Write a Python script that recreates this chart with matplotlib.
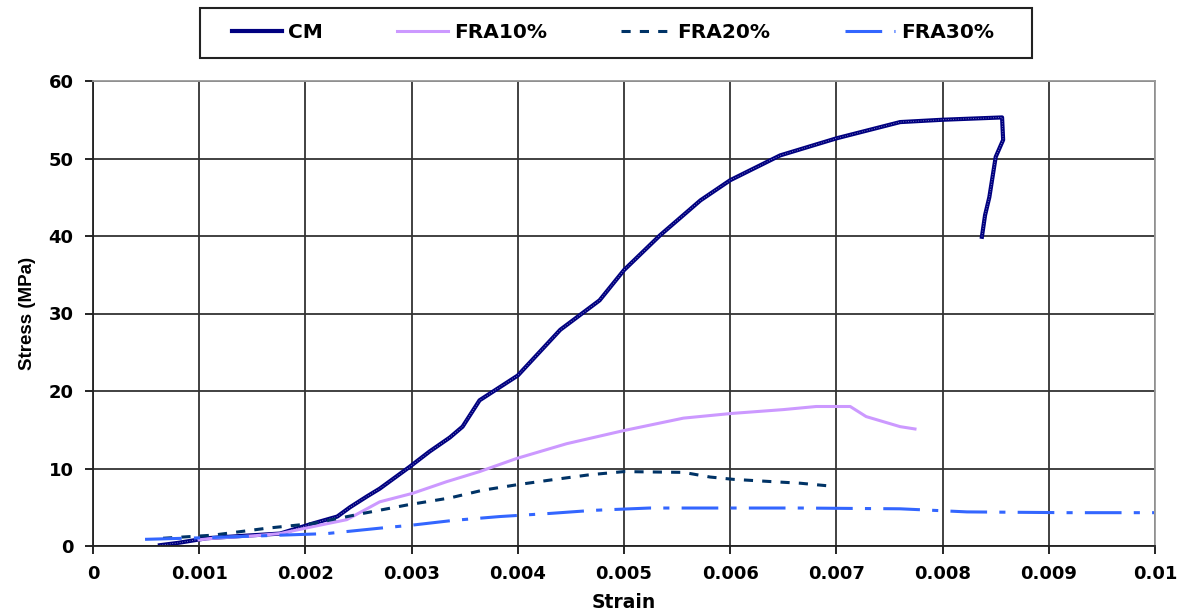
import matplotlib
matplotlib.use("Agg")
import matplotlib.pyplot as plt
from matplotlib.patches import Rectangle

plt.rcParams["font.family"] = ["DejaVu Sans"]
plt.rcParams["font.weight"] = "bold"

# Data
cm_strain = [0.00063, 0.0008, 0.00107, 0.0014, 0.00176, 0.00207, 0.0023, 0.00242,
             0.00258, 0.0027, 0.00298, 0.00317, 0.00336, 0.00348, 0.00364, 0.0040,
             0.0044, 0.00477, 0.0050, 0.00534, 0.00572, 0.0060, 0.00647, 0.0070,
             0.0076, 0.0080, 0.00856, 0.00857, 0.0085, 0.00847, 0.00844, 0.0084, 0.00837]
cm_stress = [0.1, 0.4, 1.0, 1.3, 1.6, 2.9, 3.8, 5.0,
             6.4, 7.4, 10.2, 12.2, 14.0, 15.4, 18.8, 22.0,
             27.9, 31.7, 35.6, 40.1, 44.6, 47.2, 50.4, 52.6,
             54.7, 55.0, 55.3, 52.4, 50.2, 47.6, 45.0, 42.7, 39.9]

fra10_strain = [0.0010, 0.00113, 0.0015, 0.00176, 0.00207, 0.00239, 0.0027, 0.00301,
                0.00333, 0.00364, 0.00399, 0.00446, 0.0050, 0.00556, 0.00601, 0.0065,
                0.00681, 0.00713, 0.00728, 0.0076, 0.00774]
fra10_stress = [0.8, 1.0, 1.3, 1.6, 2.5, 3.4, 5.7, 6.8,
                8.3, 9.6, 11.3, 13.2, 14.9, 16.5, 17.1, 17.6,
                18.0, 18.0, 16.7, 15.4, 15.1]

fra20_strain = [0.00066, 0.00113, 0.00164, 0.00207, 0.00254, 0.00296, 0.00336, 0.00367,
                0.00399, 0.0043, 0.00468, 0.0050, 0.00556, 0.00581, 0.00603, 0.0064,
                0.00666, 0.00697]
fra20_stress = [1.0, 1.4, 2.3, 2.9, 4.2, 5.3, 6.2, 7.2,
                7.9, 8.5, 9.2, 9.6, 9.5, 8.9, 8.6, 8.3,
                8.1, 7.7]

fra30_strain = [0.00049, 0.00113, 0.0022, 0.0027, 0.00301, 0.00339, 0.00383, 0.0043,
                0.00471, 0.00524, 0.0060, 0.00666, 0.0076, 0.00823, 0.00917, 0.0100]
fra30_stress = [0.86, 1.1, 1.6, 2.3, 2.7, 3.3, 3.8, 4.2,
                4.6, 4.9, 4.9, 4.9, 4.8, 4.4, 4.3, 4.3]

x_ticks = [0, 0.001, 0.002, 0.003, 0.004, 0.005, 0.006, 0.007, 0.008, 0.009, 0.01]
x_labels = ["0", "0.001", "0.002", "0.003", "0.004", "0.005", "0.006",
            "0.007", "0.008", "0.009", "0.01"]
y_ticks = [0, 10, 20, 30, 40, 50, 60]


fig = plt.figure(figsize=(11.83, 6.13), dpi=100)
ax = fig.add_axes([93 / 1183, 67 / 613, 1062 / 1183, 465 / 613])

# CM drawn thick with a light dotted core to get the rough texture
ax.plot(cm_strain, cm_stress, color="#000080", lw=3.0, label="CM")
ax.plot(cm_strain, cm_stress, color="#9999cc", lw=0.6, dashes=(1, 2))
ax.plot(fra10_strain, fra10_stress, color="#CC99FF", lw=2.2, label="FRA10%")
ax.plot(fra20_strain, fra20_stress, color="#003366", lw=2.2,
        dashes=(3, 3), label="FRA20%")
ax.plot(fra30_strain, fra30_stress, color="#3366FF", lw=2.2,
        dashes=(12, 4, 2, 4), label="FRA30%")

ax.set_xlim(0, 0.01)
ax.set_ylim(0, 60)
ax.set_xticks(x_ticks)
ax.set_xticklabels(x_labels)
ax.set_yticks(y_ticks)
ax.grid(True, color="#333333", lw=1.3)
ax.set_axisbelow(True)

ax.tick_params(axis="both", direction="out", length=6, width=1.2,
               labelsize=13, pad=8)
for side in ["top", "right"]:
    ax.spines[side].set_color("#999999")
    ax.spines[side].set_linewidth(1.3)
for side in ["bottom", "left"]:
    ax.spines[side].set_color("#222222")
    ax.spines[side].set_linewidth(1.3)

ax.set_xlabel("Strain", fontsize=13.5, fontweight="bold", labelpad=7)
ax.set_ylabel("Stress (MPa)", fontsize=13.5, fontweight="bold", labelpad=9,
              family=["Liberation Sans", "DejaVu Sans"])

# legend without its own frame, box drawn separately to match the reference size
handles, labels = ax.get_legend_handles_labels()
leg = fig.legend(handles, labels, loc="center", ncol=4,
                 bbox_to_anchor=(613 / 1183, 580 / 613),
                 fontsize=14.5, handlelength=2.5, handletextpad=0.3,
                 columnspacing=3.7, frameon=False)
fig.patches.append(Rectangle((200 / 1183, 555 / 613), 832 / 1183, 50 / 613,
                             transform=fig.transFigure, fill=False,
                             edgecolor="#222222", lw=1.5))

fig.savefig("out.png", dpi=100)
